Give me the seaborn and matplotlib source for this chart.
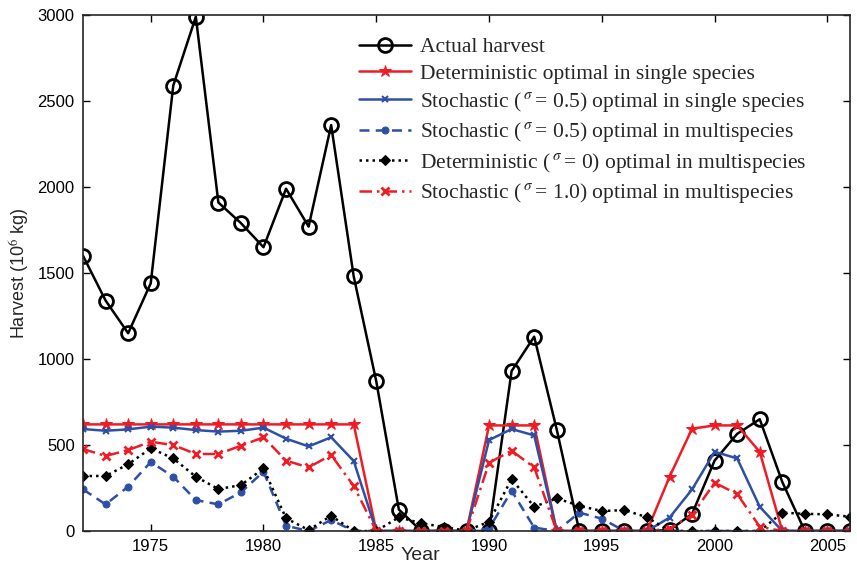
import numpy as np
import pandas as pd
import matplotlib
matplotlib.use('Agg')
import matplotlib.pyplot as plt
import seaborn as sns

# 연도
years = list(range(1972, 2007))

# 실제 어획량 (10^6 kg)
actual = [1600, 1340, 1150, 1440, 2590, 2990, 1910, 1790, 1650, 1990, 1770, 2360, 1480,
          870, 125, 0, 0, 0, 0, 930, 1130, 590, 0, 0, 0, 0, 5, 100, 410, 565, 650, 285,
          0, 0, 0]
# Deterministic optimal in single species
det_single = [620] * 13 + [0] * 5 + [614, 614, 614] + [0] * 5 + [315, 595, 614, 614, 460] + [0] * 4
# Stochastic (sigma=0.5) optimal in single species
stoch_single = [593, 583, 591, 607, 601, 587, 578, 583, 601, 537, 492, 545, 407,
                0, 0, 0, 0, 0, 529, 593, 556, 0, 0, 0, 0, 0, 78, 242, 461, 422, 141, 0,
                0, 0, 0]
# Stochastic (sigma=0.5) optimal in multispecies
stoch_multi = [242, 155, 258, 401, 316, 180, 155, 225, 345, 31, 0, 64, 0,
               0, 0, 0, 0, 0, 15, 234, 20, 0, 107, 72, 0, 0, 0, 0, 0, 0, 0, 0,
               0, 0, 0]
# Deterministic (sigma=0) optimal in multispecies
det_multi = [320, 320, 388, 481, 422, 316, 244, 267, 364, 74, 6, 89, 0,
             0, 80, 45, 23, 2, 54, 302, 141, 190, 147, 116, 122, 80, 0, 0, 0, 0, 0, 107,
             100, 97, 83]
# Stochastic (sigma=1.0) optimal in multispecies
stoch_multi_10 = [477, 436, 471, 519, 500, 448, 448, 496, 545, 409, 370, 442, 262,
                  0, 0, 0, 0, 0, 397, 467, 370, 0, 0, 0, 0, 0, 14, 93, 281, 215, 25, 0,
                  0, 0, 0]

labels = [
    'Actual harvest',
    'Deterministic optimal in single species',
    'Stochastic ($\\,^{\\sigma}\\,$= 0.5) optimal in single species',
    'Stochastic ($\\,^{\\sigma}\\,$= 0.5) optimal in multispecies',
    'Deterministic ($\\,^{\\sigma}\\,$= 0) optimal in multispecies',
    'Stochastic ($\\,^{\\sigma}\\,$= 1.0) optimal in multispecies',
]

RED = '#ee1c24'
BLUE = '#2e4fa6'

sns.set_style('ticks')
plt.rcParams['font.family'] = ['Liberation Sans', 'DejaVu Sans']
plt.rcParams['mathtext.fontset'] = 'stix'
plt.rcParams['xtick.direction'] = 'in'
plt.rcParams['ytick.direction'] = 'in'

fig = plt.figure(figsize=(8.57, 5.71), dpi=100)
ax = fig.add_axes([0.0969, 0.07, 0.8949, 0.9037])

# 선 스타일 (seaborn 기본값 덮어쓰기)
styles = [
    dict(color='black', linestyle='-', marker='o', markersize=10,
         markerfacecolor='none', markeredgecolor='black', markeredgewidth=2),
    dict(color=RED, linestyle='-', marker='*', markersize=9,
         markerfacecolor=RED, markeredgecolor=RED),
    dict(color=BLUE, linestyle='-', marker='x', markersize=5,
         markeredgecolor=BLUE, markeredgewidth=1.5),
    dict(color=BLUE, linestyle=(0, (4, 2.5)), marker='o', markersize=5,
         markerfacecolor=BLUE, markeredgecolor=BLUE),
    dict(color='black', linestyle=(0, (1, 1.6)), marker='D', markersize=5,
         markerfacecolor='black', markeredgecolor='black'),
    dict(color=RED, linestyle=(0, (5, 2, 1, 2)), marker='x', markersize=6,
         markeredgecolor=RED, markeredgewidth=2),
]

all_series = [actual, det_single, stoch_single, stoch_multi, det_multi, stoch_multi_10]
handles = []
for vals, kw in zip(all_series, styles):
    sns.lineplot(x=years, y=vals, ax=ax, color=kw['color'], linewidth=1.8)
    line = ax.lines[-1]
    line.set(**kw)
    handles.append(line)

ax.set_xlim(1972, 2006)
ax.set_ylim(0, 3000)
ax.set_xticks([1975, 1980, 1985, 1990, 1995, 2000, 2005])
ax.set_yticks([0, 500, 1000, 1500, 2000, 2500, 3000])
ax.tick_params(axis='both', which='both', top=True, right=True, labelsize=12,
               length=5, width=1, colors='black', pad=6)
for sp in ax.spines.values():
    sp.set_linewidth(1.2)
    sp.set_visible(True)

ax.set_xlabel('Year', fontsize=14)
ax.xaxis.set_label_coords(0.44, -0.03)
ax.set_ylabel('Harvest (10$^{6}$ kg)', fontsize=13)

leg = ax.legend(handles, labels, loc='upper left', bbox_to_anchor=(0.335, 0.995),
                frameon=False, prop={'family': 'Liberation Serif', 'size': 15.5},
                handlelength=2.4, labelspacing=0.3, handletextpad=0.4)

plt.savefig('out.png', dpi=100)
